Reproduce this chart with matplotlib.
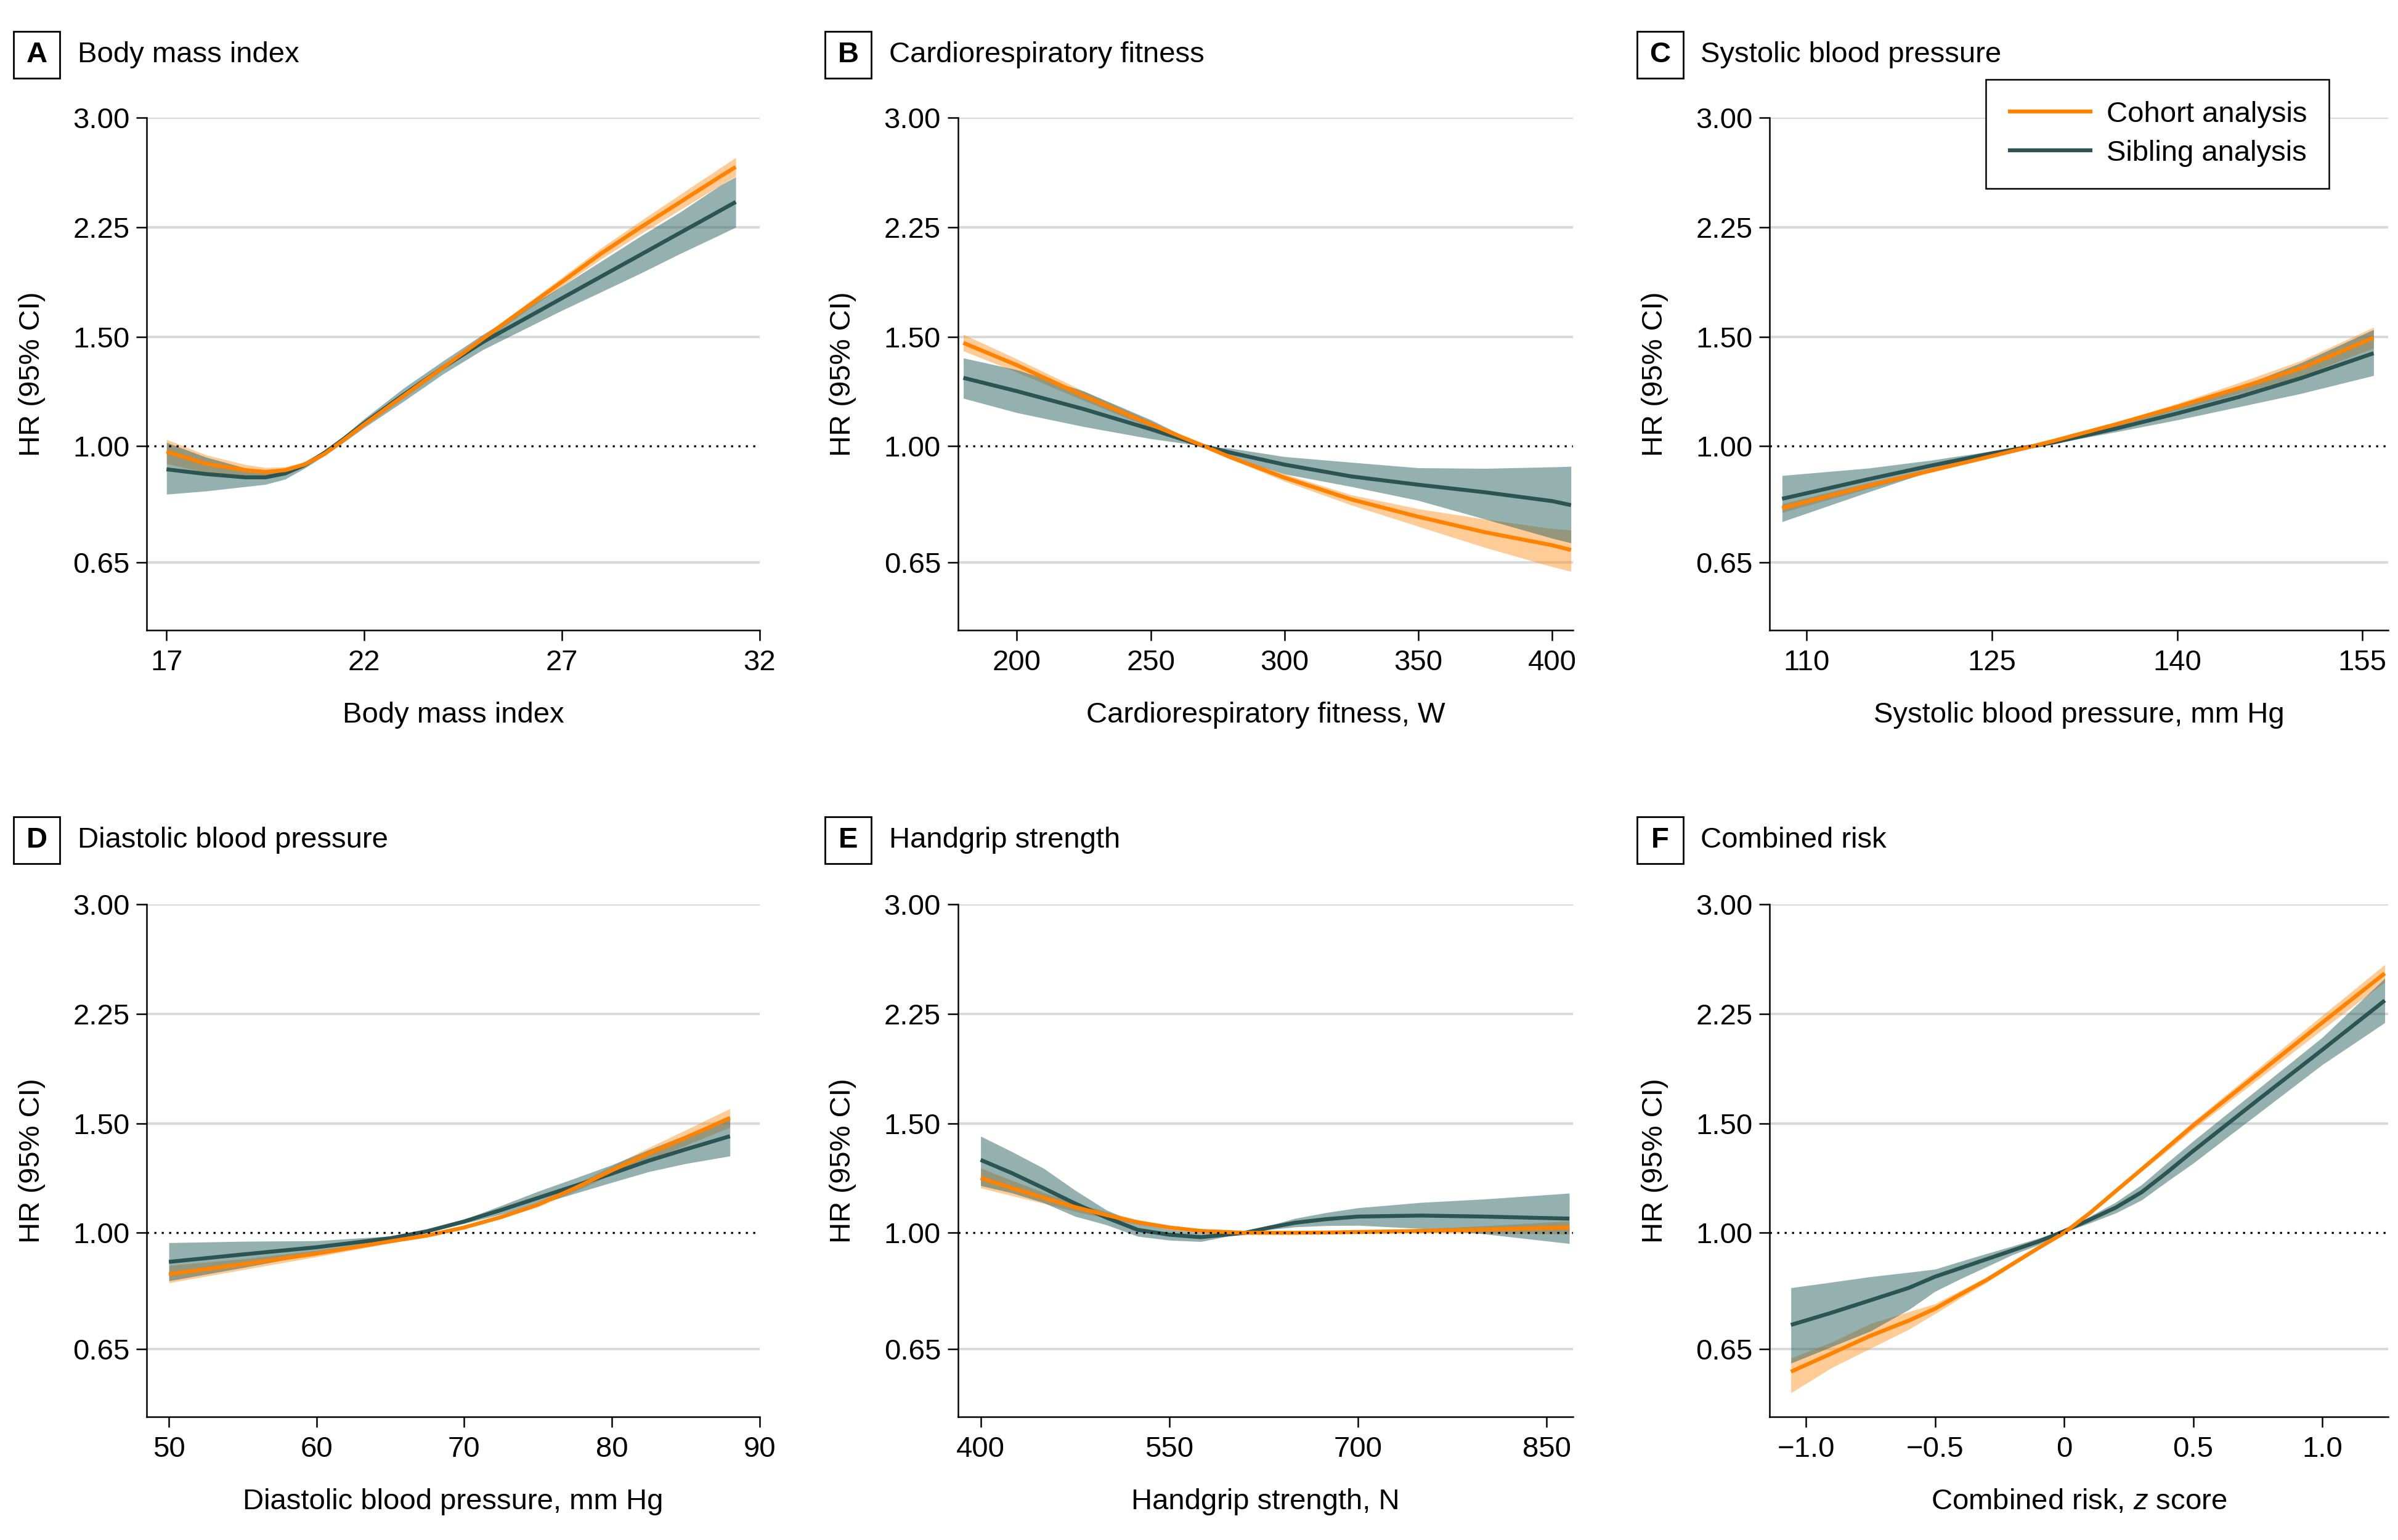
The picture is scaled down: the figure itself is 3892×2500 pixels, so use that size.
import matplotlib
matplotlib.use("Agg")
import matplotlib.pyplot as plt
from matplotlib.patches import Rectangle
from matplotlib.ticker import NullLocator

plt.rcParams['font.family'] = ['Liberation Sans', 'DejaVu Sans']
plt.rcParams['mathtext.fontset'] = 'custom'
plt.rcParams['mathtext.rm'] = 'Liberation Sans'
plt.rcParams['mathtext.it'] = 'Liberation Sans:italic'

# y axis (log scale; top tick sits one 1.5x step above 2.25, labelled 3.00 as in the figure)
ytick_vals = [0.65, 1.0, 1.5, 2.25, 3.375]
ytick_labels = ['0.65', '1.00', '1.50', '2.25', '3.00']

# A  Body mass index
bmi_x = [17, 18, 19, 19.5, 20, 20.5, 21, 21.5, 22, 23, 24, 25, 26, 27, 28, 29, 30, 31, 31.4]
bmi_coh = [0.980, 0.937, 0.915, 0.909, 0.915, 0.935, 0.972, 1.025, 1.084, 1.205, 1.339, 1.488, 1.654, 1.837, 2.042, 2.25, 2.470, 2.712, 2.812]
bmi_coh_lo = [0.937, 0.907, 0.897, 0.894, 0.904, 0.927, 0.966, 1.019, 1.077, 1.195, 1.328, 1.473, 1.634, 1.808, 2.001, 2.196, 2.401, 2.625, 2.717]
bmi_coh_hi = [1.025, 0.968, 0.934, 0.924, 0.926, 0.943, 0.978, 1.031, 1.091, 1.215, 1.350, 1.503, 1.674, 1.867, 2.084, 2.305, 2.541, 2.801, 2.911]
bmi_sib = [0.918, 0.902, 0.891, 0.891, 0.904, 0.933, 0.976, 1.029, 1.089, 1.210, 1.339, 1.470, 1.594, 1.729, 1.875, 2.033, 2.205, 2.391, 2.470]
bmi_sib_lo = [0.837, 0.847, 0.861, 0.868, 0.885, 0.922, 0.966, 1.016, 1.071, 1.181, 1.307, 1.429, 1.537, 1.653, 1.771, 1.898, 2.041, 2.187, 2.25]
bmi_sib_hi = [1.014, 0.960, 0.922, 0.909, 0.915, 0.945, 0.984, 1.041, 1.107, 1.240, 1.372, 1.512, 1.653, 1.808, 1.984, 2.178, 2.381, 2.625, 2.711]

# B  Cardiorespiratory fitness
crf_x = [180, 200, 225, 250, 270, 280, 300, 325, 350, 375, 400, 407]
crf_coh = [1.466, 1.350, 1.204, 1.084, 1.0, 0.959, 0.890, 0.821, 0.770, 0.727, 0.693, 0.681]
crf_coh_lo = [1.423, 1.315, 1.184, 1.071, 1.0, 0.953, 0.878, 0.804, 0.743, 0.687, 0.640, 0.629]
crf_coh_hi = [1.513, 1.381, 1.226, 1.097, 1.0, 0.965, 0.902, 0.835, 0.793, 0.763, 0.737, 0.733]
crf_sib = [1.288, 1.226, 1.147, 1.065, 1.0, 0.976, 0.934, 0.894, 0.867, 0.843, 0.816, 0.804]
crf_sib_lo = [1.194, 1.132, 1.075, 1.028, 1.0, 0.960, 0.902, 0.861, 0.818, 0.763, 0.711, 0.699]
crf_sib_hi = [1.386, 1.327, 1.226, 1.103, 1.0, 0.992, 0.962, 0.942, 0.923, 0.921, 0.926, 0.928]

# C  Systolic blood pressure
sbp_x = [108, 115, 120, 125, 128.3, 130, 135, 140, 145, 150, 155.9]
sbp_coh = [0.795, 0.864, 0.913, 0.964, 1.0, 1.020, 1.084, 1.157, 1.240, 1.334, 1.494]
sbp_coh_lo = [0.782, 0.855, 0.907, 0.961, 1.0, 1.018, 1.077, 1.143, 1.215, 1.297, 1.438]
sbp_coh_hi = [0.808, 0.873, 0.919, 0.967, 1.0, 1.022, 1.091, 1.171, 1.265, 1.372, 1.553]
sbp_sib = [0.823, 0.885, 0.930, 0.974, 1.0, 1.014, 1.067, 1.129, 1.200, 1.286, 1.411]
sbp_sib_lo = [0.756, 0.844, 0.911, 0.966, 1.0, 1.010, 1.054, 1.102, 1.157, 1.215, 1.299]
sbp_sib_hi = [0.897, 0.922, 0.949, 0.982, 1.0, 1.018, 1.080, 1.157, 1.245, 1.361, 1.540]

# D  Diastolic blood pressure
dbp_x = [50, 55, 60, 65, 67.5, 70, 72.5, 75, 77.5, 80, 82.5, 85, 88]
dbp_coh = [0.858, 0.890, 0.926, 0.969, 0.990, 1.020, 1.060, 1.110, 1.180, 1.260, 1.341, 1.422, 1.530]
dbp_coh_lo = [0.831, 0.872, 0.915, 0.963, 0.986, 1.016, 1.054, 1.101, 1.166, 1.240, 1.311, 1.382, 1.478]
dbp_coh_hi = [0.886, 0.908, 0.937, 0.975, 0.994, 1.024, 1.066, 1.119, 1.194, 1.281, 1.371, 1.463, 1.584]
dbp_sib = [0.898, 0.923, 0.948, 0.980, 1.006, 1.043, 1.088, 1.138, 1.190, 1.245, 1.306, 1.362, 1.430]
dbp_sib_lo = [0.837, 0.879, 0.925, 0.972, 1.002, 1.035, 1.071, 1.111, 1.157, 1.205, 1.254, 1.292, 1.329]
dbp_sib_hi = [0.964, 0.969, 0.971, 0.988, 1.010, 1.051, 1.106, 1.166, 1.224, 1.286, 1.360, 1.436, 1.538]

# E  Handgrip strength
hgs_x = [400, 425, 450, 475, 500, 525, 550, 575, 610, 630, 650, 675, 700, 750, 800, 868]
hgs_coh = [1.225, 1.180, 1.138, 1.100, 1.068, 1.040, 1.020, 1.007, 1.0, 1.0, 1.0, 1.001, 1.003, 1.007, 1.012, 1.020]
hgs_coh_lo = [1.181, 1.147, 1.115, 1.082, 1.055, 1.032, 1.014, 1.004, 1.0, 0.999, 0.998, 0.997, 0.999, 0.999, 0.998, 0.995]
hgs_coh_hi = [1.271, 1.214, 1.161, 1.118, 1.081, 1.048, 1.026, 1.010, 1.0, 1.001, 1.002, 1.005, 1.007, 1.015, 1.026, 1.045]
hgs_sib = [1.310, 1.247, 1.180, 1.115, 1.058, 1.011, 0.993, 0.984, 1.0, 1.020, 1.038, 1.052, 1.062, 1.066, 1.062, 1.054]
hgs_sib_lo = [1.191, 1.159, 1.118, 1.063, 1.030, 0.987, 0.973, 0.968, 1.0, 1.012, 1.022, 1.027, 1.028, 1.016, 0.996, 0.961]
hgs_sib_hi = [1.430, 1.350, 1.270, 1.171, 1.088, 1.036, 1.013, 1.000, 1.0, 1.028, 1.055, 1.078, 1.097, 1.119, 1.133, 1.158]

# F  Combined risk
cr_x = [-1.058, -0.9, -0.75, -0.6, -0.5, -0.4, -0.3, -0.2, -0.1, 0, 0.1, 0.2, 0.3, 0.4, 0.5, 0.75, 1.0, 1.242]
cr_coh = [0.598, 0.640, 0.683, 0.723, 0.755, 0.797, 0.840, 0.891, 0.945, 1.0, 1.076, 1.167, 1.265, 1.372, 1.488, 1.800, 2.178, 2.614]
cr_coh_lo = [0.553, 0.607, 0.652, 0.700, 0.741, 0.786, 0.832, 0.884, 0.941, 1.0, 1.071, 1.159, 1.255, 1.355, 1.467, 1.764, 2.122, 2.530]
cr_coh_hi = [0.629, 0.667, 0.715, 0.747, 0.769, 0.808, 0.849, 0.898, 0.949, 1.0, 1.080, 1.174, 1.275, 1.389, 1.509, 1.837, 2.237, 2.700]
cr_sib = [0.711, 0.744, 0.779, 0.816, 0.850, 0.878, 0.907, 0.937, 0.968, 1.006, 1.050, 1.098, 1.162, 1.252, 1.354, 1.635, 1.969, 2.364]
cr_sib_lo = [0.617, 0.656, 0.695, 0.753, 0.805, 0.844, 0.882, 0.922, 0.956, 1.002, 1.037, 1.076, 1.129, 1.210, 1.294, 1.553, 1.864, 2.177]
cr_sib_hi = [0.816, 0.833, 0.850, 0.864, 0.874, 0.900, 0.926, 0.952, 0.980, 1.010, 1.063, 1.120, 1.195, 1.297, 1.405, 1.702, 2.062, 2.566]

letters = ['A', 'B', 'C', 'D', 'E', 'F']
titles = ['Body mass index', 'Cardiorespiratory fitness', 'Systolic blood pressure',
          'Diastolic blood pressure', 'Handgrip strength', 'Combined risk']
xlabels = ['Body mass index', 'Cardiorespiratory fitness, W', 'Systolic blood pressure, mm Hg',
           'Diastolic blood pressure, mm Hg', 'Handgrip strength, N', 'Combined risk, $z$ score']
xticks = [[17, 22, 27, 32], [200, 250, 300, 350, 400], [110, 125, 140, 155],
          [50, 60, 70, 80, 90], [400, 550, 700, 850], [-1.0, -0.5, 0, 0.5, 1.0]]
xticklabels = [['17', '22', '27', '32'], ['200', '250', '300', '350', '400'],
               ['110', '125', '140', '155'], ['50', '60', '70', '80', '90'],
               ['400', '550', '700', '850'], ['\u22121.0', '\u22120.5', '0', '0.5', '1.0']]
xlims = [(16.5, 32), (178, 407.8), (107.0, 157.1), (48.5, 90), (382, 871), (-1.14, 1.256)]

series = [
    (bmi_x, bmi_coh, bmi_coh_lo, bmi_coh_hi, bmi_sib, bmi_sib_lo, bmi_sib_hi),
    (crf_x, crf_coh, crf_coh_lo, crf_coh_hi, crf_sib, crf_sib_lo, crf_sib_hi),
    (sbp_x, sbp_coh, sbp_coh_lo, sbp_coh_hi, sbp_sib, sbp_sib_lo, sbp_sib_hi),
    (dbp_x, dbp_coh, dbp_coh_lo, dbp_coh_hi, dbp_sib, dbp_sib_lo, dbp_sib_hi),
    (hgs_x, hgs_coh, hgs_coh_lo, hgs_coh_hi, hgs_sib, hgs_sib_lo, hgs_sib_hi),
    (cr_x, cr_coh, cr_coh_lo, cr_coh_hi, cr_sib, cr_sib_lo, cr_sib_hi),
]

orange = '#FF8200'
orange_band = '#FF8C1A'
green = '#2B5452'
green_band = '#2B6563'
FS = 17

fig = plt.figure(figsize=(19.46, 12.5), dpi=200)
lefts = [0.0612, 0.3995, 0.738]
widths = [0.2555, 0.2565, 0.258]
bottoms = [0.5908, 0.0800]
height = 0.3328
title_y = [0.9644, 0.4545]

for i in range(6):
    row, col = i // 3, i % 3
    ax = fig.add_axes([lefts[col], bottoms[row], widths[col], height])
    x, coh, coh_lo, coh_hi, sib, sib_lo, sib_hi = series[i]

    for t in ytick_vals:
        if t != 1.0:
            ax.axhline(t, color='#d9d9d9', lw=1.5, zorder=0)
    ax.fill_between(x, coh_lo, coh_hi, color=orange_band, alpha=0.45, lw=0, zorder=1)
    ax.fill_between(x, sib_lo, sib_hi, color=green_band, alpha=0.5, lw=0, zorder=2)
    ax.plot(x, sib, color=green, lw=2.3, zorder=3, solid_capstyle='butt', label='Sibling analysis')
    ax.plot(x, coh, color=orange, lw=2.3, zorder=4, solid_capstyle='butt', label='Cohort analysis')
    ax.axhline(1.0, color='black', lw=1.2, ls=(0, (1, 2.6)), zorder=5)

    ax.set_yscale('log')
    ax.set_ylim(0.506, 3.375)
    ax.set_yticks(ytick_vals)
    ax.set_yticklabels(ytick_labels)
    ax.yaxis.set_minor_locator(NullLocator())
    ax.set_xlim(*xlims[i])
    ax.set_xticks(xticks[i])
    ax.set_xticklabels(xticklabels[i])

    for s in ['top', 'right']:
        ax.spines[s].set_visible(False)
    for s in ['left', 'bottom']:
        ax.spines[s].set_linewidth(0.9)
    ax.tick_params(direction='out', length=6, width=0.9, labelsize=FS, pad=4)
    ax.tick_params(axis='x', pad=5)
    ax.set_ylabel('HR (95% CI)', fontsize=FS, labelpad=16)
    ax.set_xlabel(xlabels[i], fontsize=FS, labelpad=15)

    # panel letter box and title
    bx = lefts[col] - 0.0458
    bw, bh = 75 / 3892, 76 / 2500
    fig.patches.append(Rectangle((bx - bw / 2, title_y[row] - bh / 2), bw, bh,
                                 transform=fig.transFigure, fill=False,
                                 edgecolor='black', lw=1.0))
    fig.text(bx, title_y[row], letters[i], fontsize=FS, fontweight='bold',
             ha='center', va='center')
    fig.text(lefts[col] - 0.0288, title_y[row], titles[i], fontsize=FS,
             ha='left', va='center')

    if i == 2:
        h, l = ax.get_legend_handles_labels()
        ax.legend(h[::-1], l[::-1], loc='upper right', bbox_to_anchor=(0.904, 1.075),
                  fontsize=FS, frameon=True, fancybox=False, framealpha=1,
                  edgecolor='black', handlelength=2.9, handletextpad=0.5,
                  borderpad=0.75, labelspacing=0.4, borderaxespad=0)
        ax.get_legend().get_frame().set_linewidth(0.9)

fig.savefig('out.png', dpi=200)
